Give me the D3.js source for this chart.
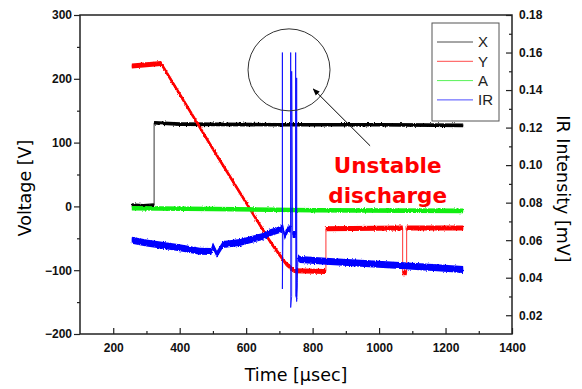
<!DOCTYPE html>
<html>
<head>
<meta charset="utf-8">
<script src="https://cdn.jsdelivr.net/npm/d3@7"></script>
<style>
  body { margin: 0; background: #fff; }
  svg { display: block; }
</style>
</head>
<body>
<svg id="chart" width="582" height="389"></svg>
<script>
// time in usec, voltage in V, IR in mV (right axis)
const seriesX = [[256, 2], [290, 1], [323, 2], [323, 131], [400, 129], [700, 128], [1000, 128], [1253, 127]];
const seriesY = [[256, 220], [300, 222], [344, 224], [500, 90], [672, -55], [720, -90], [745, -101],
  [840, -102], [840, -35], [1071, -34], [1071, -104], [1083, -104], [1083, -34], [1253, -34]];
const seriesA = [[256, -3], [500, -4], [800, -6], [1253, -7]];
const seriesIR = [[256, 0.0600], [300, 0.0585], [400, 0.0560], [461, 0.0541], [495, 0.0540], [500, 0.0570],
  [512, 0.0525], [530, 0.0577], [581, 0.0587], [650, 0.0620], [672, 0.0640], [700, 0.0655],
  [709, 0.0665], [709, 0.160], [709, 0.034], [711, 0.0667], [716, 0.0620], [726, 0.0660],
  [734, 0.0660], [734, 0.160], [734, 0.0241], [737, 0.0300], [737, 0.150], [740, 0.0630],
  [749, 0.0630], [749, 0.160], [749, 0.0300], [752, 0.0300], [752, 0.1465], [752, 0.0273],
  [756, 0.0507], [762, 0.0497], [852, 0.0486], [1063, 0.0465], [1162, 0.0454], [1253, 0.0444]];

const legendNames = ["X", "Y", "A", "IR"];
const xTicks = [200, 400, 600, 800, 1000, 1200, 1400];
const xMinor = [300, 500, 700, 900, 1100, 1300];
const yTicks = [-200, -100, 0, 100, 200, 300];
const yMinor = [-150, -50, 50, 150, 250];
const rTicks = [0.02, 0.04, 0.06, 0.08, 0.10, 0.12, 0.14, 0.16, 0.18];
const rMinor = [0.03, 0.05, 0.07, 0.09, 0.11, 0.13, 0.15, 0.17];

const svg = d3.select("#chart");
const plotL = 80, plotR = 512, plotT = 15, plotB = 334;

const x = d3.scaleLinear().domain([100, 1400]).range([plotL, plotR]);
const y = d3.scaleLinear().domain([-200, 300]).range([plotB, plotT]);
const yr = d3.scaleLinear().domain([0.01, 0.18]).range([plotB, plotT]);

// noisy look for the traces
const defs = svg.append("defs");
const f = defs.append("filter").attr("id", "jit")
  .attr("filterUnits", "userSpaceOnUse")
  .attr("color-interpolation-filters", "sRGB")
  .attr("x", 0).attr("y", 0).attr("width", 582).attr("height", 389);
f.append("feTurbulence").attr("type", "fractalNoise")
  .attr("baseFrequency", "0.9 0.5").attr("numOctaves", 1).attr("seed", 4).attr("result", "n");
f.append("feDisplacementMap").attr("in", "SourceGraphic").attr("in2", "n")
  .attr("scale", 3).attr("xChannelSelector", "R").attr("yChannelSelector", "G");

defs.append("marker").attr("id", "arr")
  .attr("viewBox", "0 0 10 10").attr("refX", 9).attr("refY", 5)
  .attr("markerWidth", 7).attr("markerHeight", 7).attr("orient", "auto")
  .append("path").attr("d", "M0,1 L10,5 L0,9 Z").attr("fill", "#000");

// band = vertical thickness of the noisy trace, in px
const traces = [
  { data: seriesX, color: "#000000", band: 3.6, ys: y },
  { data: seriesY, color: "#ff0000", band: 5, ys: y },
  { data: seriesA, color: "#11ee11", band: 4.6, ys: y },
  { data: seriesIR, color: "#0000ff", band: 7, ys: yr }
];

const plot = svg.append("g");
traces.forEach(tr => {
  const line = d3.line().x(d => x(d[0])).y(d => tr.ys(d[1]));
  // thin full trace (jumps and spikes)
  plot.append("path").attr("d", line(tr.data))
    .attr("fill", "none").attr("stroke", tr.color).attr("stroke-width", 1).attr("opacity", 0.8);
  // noisy band, broken at vertical jumps: solid core + jittered copy
  const pts = [];
  tr.data.forEach((d, i) => {
    if (i > 0 && Math.abs(d[0] - tr.data[i - 1][0]) <= 3) pts.push(null);
    pts.push(d);
  });
  const bandArea = h => d3.area().defined(d => d !== null)
    .x(d => x(d[0]))
    .y0(d => tr.ys(d[1]) - h / 2)
    .y1(d => tr.ys(d[1]) + h / 2);
  plot.append("path").attr("d", bandArea(tr.band * 0.65)(pts)).attr("fill", tr.color);
  plot.append("path").attr("d", bandArea(tr.band)(pts)).attr("fill", tr.color)
    .attr("filter", "url(#jit)");
});

// axes
const tickFont = g => g.selectAll("text")
  .attr("font-family", "'Liberation Sans', Arial, sans-serif")
  .attr("font-size", 12).attr("font-weight", "bold").attr("fill", "#111");

svg.append("g").attr("transform", `translate(0,${plotB})`)
  .call(d3.axisBottom(x).tickValues(xTicks).tickSize(-6).tickPadding(9).tickFormat(d3.format("d")))
  .call(g => g.select(".domain").remove()).call(tickFont);
svg.append("g").attr("transform", `translate(0,${plotB})`)
  .call(d3.axisBottom(x).tickValues(xMinor).tickSize(-3).tickFormat(""))
  .call(g => g.select(".domain").remove());

svg.append("g").attr("transform", `translate(${plotL},0)`)
  .call(d3.axisLeft(y).tickValues(yTicks).tickSize(6).tickPadding(2))
  .call(g => g.select(".domain").remove()).call(tickFont);
svg.append("g").attr("transform", `translate(${plotL},0)`)
  .call(d3.axisLeft(y).tickValues(yMinor).tickSize(3).tickFormat(""))
  .call(g => g.select(".domain").remove());

svg.append("g").attr("transform", `translate(${plotR},0)`)
  .call(d3.axisRight(yr).tickValues(rTicks).tickSize(-6).tickPadding(7).tickFormat(d3.format(".2f")))
  .call(g => g.select(".domain").remove()).call(tickFont);
svg.append("g").attr("transform", `translate(${plotR},0)`)
  .call(d3.axisRight(yr).tickValues(rMinor).tickSize(-3).tickFormat(""))
  .call(g => g.select(".domain").remove());

svg.selectAll(".tick line").attr("stroke", "#222").attr("stroke-width", 1.2);

svg.append("rect").attr("x", plotL).attr("y", plotT)
  .attr("width", plotR - plotL).attr("height", plotB - plotT)
  .attr("fill", "none").attr("stroke", "#222").attr("stroke-width", 1.5);

// axis titles
const titleFont = "'DejaVu Sans', Verdana, sans-serif";
svg.append("text").attr("x", 296).attr("y", 381).attr("text-anchor", "middle")
  .attr("font-family", titleFont).attr("font-size", 17.5).text("Time [\u03bcsec]");
svg.append("text").attr("transform", "translate(31,188) rotate(-90)").attr("text-anchor", "middle")
  .attr("font-family", titleFont).attr("font-size", 17.5).text("Voltage [V]");
svg.append("text").attr("transform", "translate(557,189) rotate(90)").attr("text-anchor", "middle")
  .attr("font-family", titleFont).attr("font-size", 17.5).text("IR Intensity [mV]");

// legend
const lg = svg.append("g");
lg.append("rect").attr("x", 432).attr("y", 23).attr("width", 67).attr("height", 98)
  .attr("fill", "#fff").attr("stroke", "#555").attr("stroke-width", 1);
legendNames.forEach((name, i) => {
  const yy = 42 + i * 19.3;
  lg.append("line").attr("x1", 437).attr("x2", 473).attr("y1", yy).attr("y2", yy)
    .attr("stroke", traces[i].color).attr("stroke-width", 1).attr("opacity", 0.7);
  lg.append("text").attr("x", 478).attr("y", yy).attr("dy", "0.36em")
    .attr("font-family", "'Liberation Sans', Arial, sans-serif").attr("font-size", 15)
    .attr("fill", "#222").text(name);
});

// annotation: circle around the spikes, arrow and label
const circleAt = [729, 214], arrowFrom = [973, 95], arrowTo = [802, 184];
svg.append("circle").attr("cx", x(circleAt[0])).attr("cy", y(circleAt[1])).attr("r", 41)
  .attr("fill", "none").attr("stroke", "#333").attr("stroke-width", 1);
svg.append("line")
  .attr("x1", x(arrowFrom[0])).attr("y1", y(arrowFrom[1]))
  .attr("x2", x(arrowTo[0])).attr("y2", y(arrowTo[1]))
  .attr("stroke", "#000").attr("stroke-width", 1).attr("marker-end", "url(#arr)");
const note = svg.append("text").attr("text-anchor", "middle")
  .attr("font-family", titleFont).attr("font-size", 21.5).attr("font-weight", "bold").attr("fill", "#ff0000");
note.append("tspan").attr("x", x(1026)).attr("y", 173).text("Unstable");
note.append("tspan").attr("x", x(1026)).attr("y", 203).text("discharge");
</script>
</body>
</html>
